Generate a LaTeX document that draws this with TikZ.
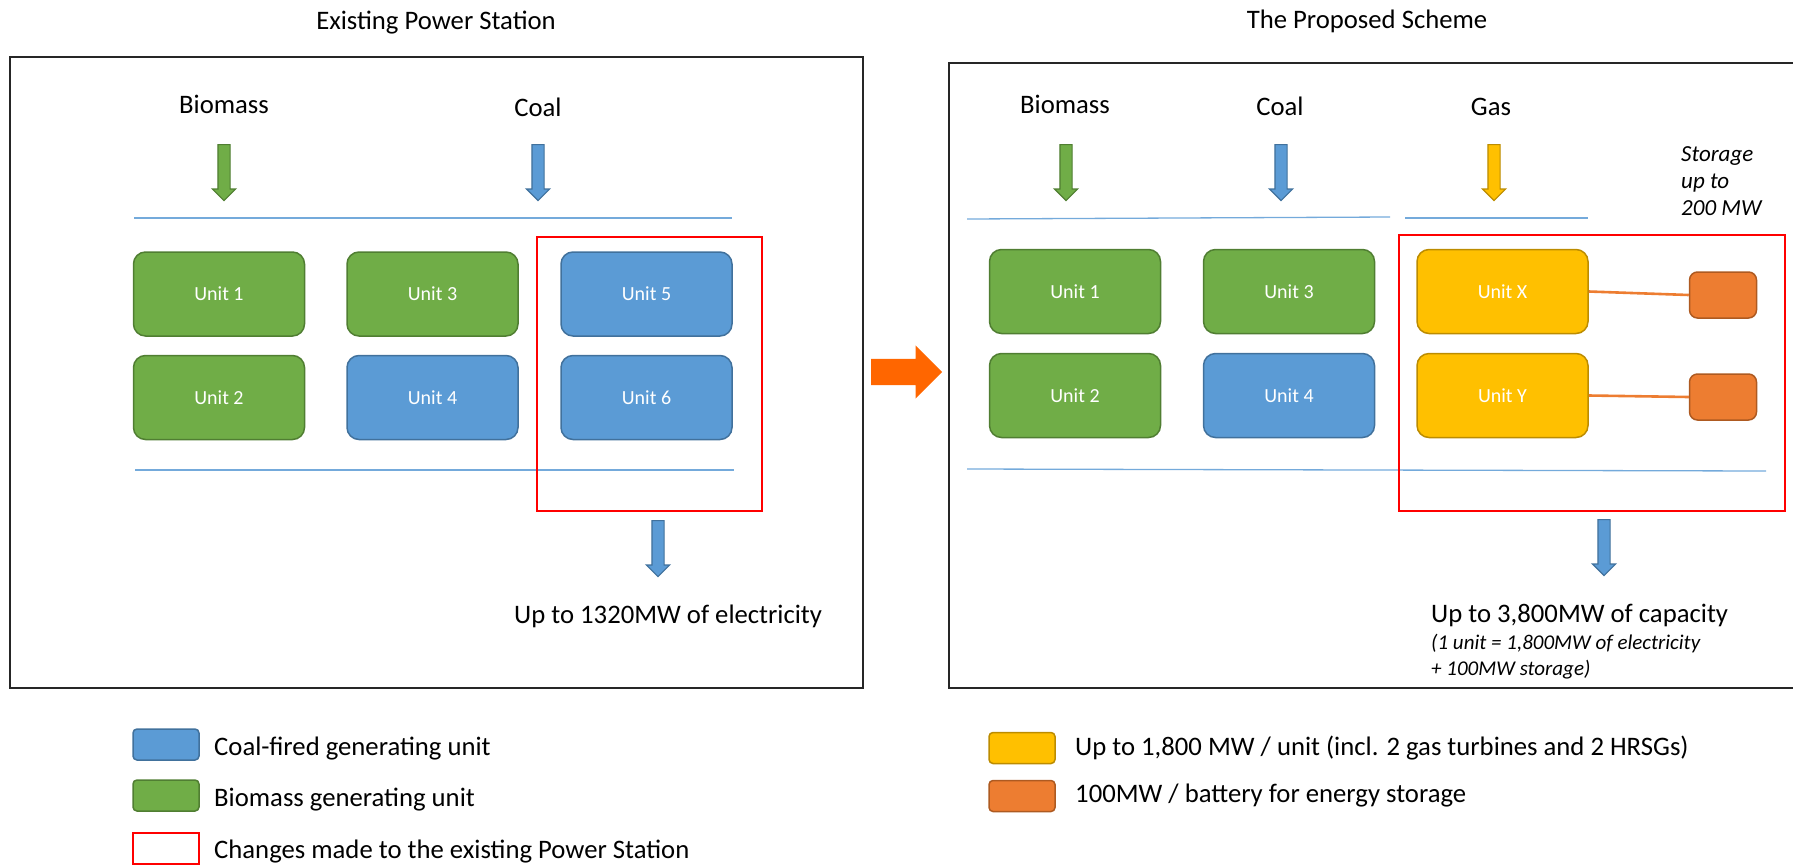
\documentclass[tikz,border=0pt]{standalone}
\usepackage{fontspec}
\setmainfont{Carlito}
\usetikzlibrary{shapes.arrows}
\definecolor{biogreen}{HTML}{70AD47}
\definecolor{biogreenD}{HTML}{507E32}
\definecolor{coalblue}{HTML}{5B9BD5}
\definecolor{coalblueD}{HTML}{41719C}
\definecolor{gasyellow}{HTML}{FFC000}
\definecolor{gasyellowD}{HTML}{BC8C00}
\definecolor{battorange}{HTML}{ED7D31}
\definecolor{battorangeD}{HTML}{AE5A21}
\definecolor{bigarrow}{HTML}{FF6600}
\tikzset{unit/.style = {draw, rounded corners=12pt, line width=1.5pt, minimum width=171pt, minimum height=84pt, text=white, font=\fontsize{20}{24}\selectfont},
         bio/.style = {unit, fill=biogreen, draw=biogreenD},
         coal/.style = {unit, fill=coalblue, draw=coalblueD},
         gas/.style = {unit, fill=gasyellow, draw=gasyellowD},
         battery/.style = {draw=battorangeD, fill=battorange, rounded corners=8pt, line width=1.5pt, minimum width=67pt, minimum height=46pt},
         feed/.style = {single arrow, single arrow head extend=5.5pt, inner sep=5.5pt, minimum height=56pt, rotate=-90, anchor=tail, line width=1.2pt},
         heading/.style = {anchor=base, inner sep=0pt, font=\fontsize{26.7}{32}\selectfont},
         swatch/.style = {draw, rounded corners=4pt, line width=1.5pt, minimum width=66pt, minimum height=31pt},
         changebox/.style = {draw=red, line width=2pt, rectangle},
         bus/.style = {draw=coalblue!85, line width=1.3pt},
         batline/.style = {draw=battorange, line width=2.6pt}}
\begin{document}
\begin{tikzpicture}[x=1pt, y=-1pt]
    \useasboundingbox (0,0) rectangle (1793,865);
    % existing station
    \node[heading] (oldtitle) at (436,29) {Existing Power Station};
    \node[draw=black!85, line width=2.5pt, minimum width=853pt, minimum height=631pt] (oldplant) at (436.5,372.5) {};
    \node[heading] (oldbio) at (224,113) {Biomass};
    \node[heading] (oldcoal) at (538,116) {Coal};
    \node[feed, fill=biogreen, draw=biogreenD] (oldbioin) at (224,144) {};
    \node[feed, fill=coalblue, draw=coalblueD] (oldcoalin) at (538,144) {};
    \draw[bus] (134,218) -- (732,218);
    \draw[bus] (135,470) -- (734,470);
    \node[bio] (u1) at (219,294) {Unit 1};
    \node[bio] (u2) at (219,397.5) {Unit 2};
    \node[bio] (u3) at (432.5,294) {Unit 3};
    \node[coal] (u4) at (432.5,397.5) {Unit 4};
    \node[coal] (u5) at (646.5,294) {Unit 5};
    \node[coal] (u6) at (646.5,397.5) {Unit 6};
    \node[changebox, minimum width=225pt, minimum height=274pt] (oldchange) at (649.5,374) {};
    \node[feed, fill=coalblue, draw=coalblueD] (oldout) at (658,520) {};
    \node[heading, anchor=base west] (oldmw) at (514,623) {Up to 1320MW of electricity};

    \node[single arrow, fill=bigarrow, single arrow head extend=13.5pt, inner sep=13pt, minimum height=71pt, anchor=tail] (step) at (871,372) {};

    % proposed scheme
    \node[heading] (newtitle) at (1367,28) {The Proposed Scheme};
    \draw[draw=black!85, line width=2.5pt] (1796,63) -| (949,688) -- (1796,688);
    \node[heading] (newbio) at (1065,113) {Biomass};
    \node[heading] (newcoal) at (1280,115) {Coal};
    \node[heading] (newgas) at (1491,115) {Gas};
    \node[feed, fill=biogreen, draw=biogreenD] (newbioin) at (1066,144) {};
    \node[feed, fill=coalblue, draw=coalblueD] (newcoalin) at (1281,144) {};
    \node[feed, fill=gasyellow, draw=gasyellowD] (newgasin) at (1494,144) {};
    \node[anchor=base west, inner sep=0pt, align=left, font=\fontsize{23}{27}\selectfont\itshape] (storage) at (1681,215) {Storage\\up to\\200 MW};
    \draw[bus] (967,219) -- (1390,217);
    \draw[bus] (1405,218) -- (1588,218);
    \draw[bus] (967,469) -- (1766,471);
    \node[bio] (n1) at (1075,291.5) {Unit 1};
    \node[bio] (n2) at (1075,395.5) {Unit 2};
    \node[bio] (n3) at (1289,291.5) {Unit 3};
    \node[coal] (n4) at (1289,395.5) {Unit 4};
    \node[gas] (nx) at (1502.5,291.5) {Unit X};
    \node[gas] (ny) at (1502.5,395.5) {Unit Y};
    \node[battery] (bx) at (1723,295) {};
    \node[battery] (by) at (1723,397) {};
    \draw[batline] (nx.east) -- (bx.west);
    \draw[batline] (ny.east) -- (by.west);
    \node[changebox, minimum width=386pt, minimum height=276pt] (newchange) at (1592,373) {};
    \node[feed, fill=coalblue, draw=coalblueD] (newout) at (1604,519) {};
    \node[heading, anchor=base west] (newmw) at (1431,622) {Up to 3,800MW of capacity};
    \node[anchor=base west, inner sep=0pt, align=left, font=\fontsize{21}{26}\selectfont\itshape] (newnote) at (1431,675) {(1 unit = 1,800MW of electricity\\+ 100MW storage)};

    % legend
    \node[swatch, fill=coalblue, draw=coalblueD] (keycoal) at (166,744.5) {};
    \node[swatch, fill=biogreen, draw=biogreenD] (keybio) at (166,795.5) {};
    \node[swatch, fill=white, draw=red, rounded corners=0pt] (keychange) at (166,848.5) {};
    \node[heading, anchor=base west] at (214,755) {Coal-fired generating unit};
    \node[heading, anchor=base west] at (214,806) {Biomass generating unit};
    \node[heading, anchor=base west] at (214,858) {Changes made to the existing Power Station};
    \node[swatch, fill=gasyellow, draw=gasyellowD] (keygas) at (1022,748) {};
    \node[swatch, fill=battorange, draw=battorangeD] (keybatt) at (1022,796) {};
    \node[heading, anchor=base west] at (1075,755) {Up to 1,800 MW / unit (incl. 2 gas turbines and 2 HRSGs)};
    \node[heading, anchor=base west] at (1075,802) {100MW / battery for energy storage};
\end{tikzpicture}
\end{document}
